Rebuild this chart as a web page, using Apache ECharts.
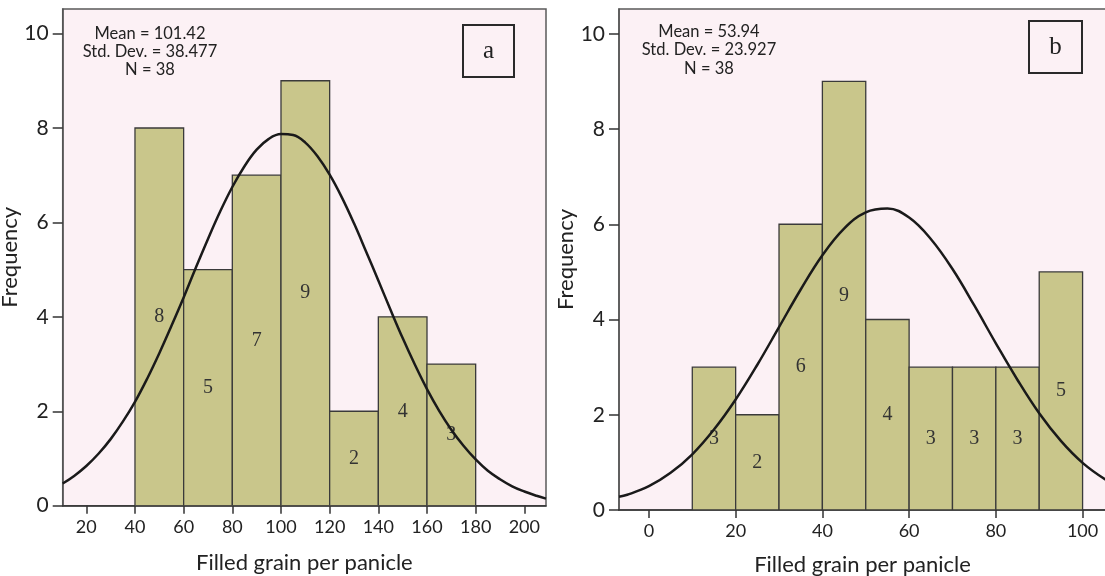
<!DOCTYPE html>
<html>
<head>
<meta charset="utf-8">
<script src="https://cdn.jsdelivr.net/npm/echarts@6/dist/echarts.min.js"></script>
<style>
  html, body { margin: 0; padding: 0; background: #fff; }
  #chart { width: 1105px; height: 576px; }
</style>
</head>
<body>
<div id="chart"></div>
<script>
// panel a: filled grain histogram (bin edges + counts)
const binEdgesA = [40, 60, 80, 100, 120, 140, 160, 180];
const countsA = [8, 5, 7, 9, 2, 4, 3];
// normal curve a
const curveXA = [10.3, 15, 20, 25, 30, 35, 40, 45, 50, 55, 60, 65, 70, 75, 80, 85, 90, 95, 100, 105, 110,
  115, 120, 125, 130, 135, 140, 145, 150, 155, 160, 165, 170, 175, 180, 185, 190, 195, 200, 205, 208.9];
const curveYA = [0.47, 0.63, 0.84, 1.1, 1.41, 1.78, 2.2, 2.69, 3.23, 3.81, 4.41, 5.04, 5.65, 6.23, 6.75, 7.19, 7.54, 7.77, 7.87, 7.85, 7.69,
  7.4, 7.01, 6.53, 5.98, 5.38, 4.77, 4.15, 3.55, 2.99, 2.47, 2.01, 1.61, 1.27, 0.98, 0.74, 0.56, 0.41, 0.3, 0.21, 0.15];
const xTicksA = [20, 40, 60, 80, 100, 120, 140, 160, 180, 200];

// panel b
const binEdgesB = [10, 20, 30, 40, 50, 60, 70, 80, 90, 100];
const countsB = [3, 2, 6, 9, 4, 3, 3, 3, 5];
const curveXB = [-6.9, -5, 0, 5, 10, 15, 20, 25, 30, 35, 40, 45, 50, 55, 60, 65, 70, 75, 80, 85, 90, 95, 100, 105.4];
const curveYB = [0.28, 0.32, 0.5, 0.78, 1.17, 1.69, 2.32, 3.05, 3.84, 4.63, 5.35, 5.91, 6.25, 6.33, 6.14, 5.69, 5.06, 4.3, 3.5, 2.73, 2.03, 1.45, 0.99, 0.63];
const xTicksB = [0, 20, 40, 60, 80, 100];

const yTicks = [0, 2, 4, 6, 8, 10];
const statsA = ['Mean = 101.42', 'Std. Dev. = 38.477', 'N = 38'];
const statsB = ['Mean = 53.94', 'Std. Dev. = 23.927', 'N = 38'];

const sans = 'Lato';
const serif = '"Liberation Serif"';

function toBins(edges, counts) {
  return counts.map((c, i) => [edges[i], edges[i + 1], c]);
}
function toPoints(xs, ys) {
  return xs.map((x, i) => [x, ys[i]]);
}

function renderBar(params, api) {
  const p0 = api.coord([api.value(0), api.value(2)]);
  const p1 = api.coord([api.value(1), 0]);
  return {
    type: 'group',
    children: [
      {
        type: 'rect',
        shape: { x: p0[0], y: p0[1], width: p1[0] - p0[0], height: p1[1] - p0[1] },
        style: { fill: '#c9c68b', stroke: '#3a3a3a', lineWidth: 1.3 }
      },
      {
        type: 'text',
        x: (p0[0] + p1[0]) / 2,
        y: (p0[1] + p1[1]) / 2,
        style: {
          text: String(api.value(2)),
          align: 'center',
          verticalAlign: 'middle',
          font: '20px ' + serif,
          fill: '#333'
        }
      }
    ]
  };
}

function xAxisCfg(idx, min, max, ticks, gap) {
  return {
    type: 'value',
    gridIndex: idx,
    min: min,
    max: max,
    name: 'Filled grain per panicle',
    nameLocation: 'middle',
    nameGap: gap,
    nameTextStyle: { fontFamily: sans, fontSize: 22, color: '#222' },
    splitLine: { show: false },
    axisLine: { onZero: false, lineStyle: { color: '#333', width: 1.5 } },
    axisTick: { length: 8, customValues: ticks, lineStyle: { color: '#333', width: 1.5 } },
    axisLabel: { customValues: ticks, margin: 12, fontFamily: sans, fontSize: 18, color: '#222' }
  };
}

function yAxisCfg(idx, gap) {
  return {
    type: 'value',
    gridIndex: idx,
    min: 0,
    max: 10.52,
    name: 'Frequency',
    nameLocation: 'middle',
    nameRotate: 90,
    nameGap: gap,
    nameTextStyle: { fontFamily: sans, fontSize: 22, color: '#222' },
    splitLine: { show: false },
    axisLine: { show: true, onZero: false, lineStyle: { color: '#555', width: 1.5 } },
    axisTick: { length: 10, customValues: yTicks, lineStyle: { color: '#333', width: 1.5 } },
    axisLabel: { customValues: yTicks, margin: 14, fontFamily: sans, fontSize: 21, color: '#222' }
  };
}

function statsText(lines, cx, ys) {
  return lines.map((t, i) => ({
    type: 'text',
    x: cx,
    y: ys[i],
    style: { text: t, align: 'center', verticalAlign: 'middle', font: '16.5px ' + sans, fill: '#222' }
  }));
}

function panelTag(letter, x, y, w, h) {
  return [
    { type: 'rect', shape: { x: x, y: y, width: w, height: h }, style: { fill: 'none', stroke: '#2a2a2a', lineWidth: 2 } },
    {
      type: 'text',
      x: x + w / 2,
      y: y + h / 2,
      style: { text: letter, align: 'center', verticalAlign: 'middle', font: '25px ' + serif, fill: '#222' }
    }
  ];
}

const chart = echarts.init(document.getElementById('chart'));
chart.setOption({
  animation: false,
  backgroundColor: '#fff',
  grid: [
    { left: 62.7, right: 559, top: 9, bottom: 70.3, outerBoundsMode: 'none', show: true, backgroundColor: '#fcf1f5', borderColor: '#5a5a5a', borderWidth: 1.5 },
    { left: 619, right: -1, top: 9, bottom: 66, outerBoundsMode: 'none', show: true, backgroundColor: '#fcf1f5', borderColor: '#5a5a5a', borderWidth: 1.5 }
  ],
  xAxis: [
    xAxisCfg(0, 10.3, 208.9, xTicksA, 46),
    xAxisCfg(1, -6.9, 105.4, xTicksB, 44)
  ],
  yAxis: [yAxisCfg(0, 34), yAxisCfg(1, 33)],
  series: [
    { type: 'custom', xAxisIndex: 0, yAxisIndex: 0, renderItem: renderBar, data: toBins(binEdgesA, countsA), clip: true },
    { type: 'line', xAxisIndex: 0, yAxisIndex: 0, data: toPoints(curveXA, curveYA), smooth: 0.4, showSymbol: false, lineStyle: { color: '#1a1a1a', width: 2.5 }, z: 5 },
    { type: 'custom', xAxisIndex: 1, yAxisIndex: 1, renderItem: renderBar, data: toBins(binEdgesB, countsB), clip: true },
    { type: 'line', xAxisIndex: 1, yAxisIndex: 1, data: toPoints(curveXB, curveYB), smooth: 0.4, showSymbol: false, lineStyle: { color: '#1a1a1a', width: 2.5 }, z: 5 }
  ],
  graphic: [
    ...statsText(statsA, 150, [34, 52, 70]),
    ...statsText(statsB, 709, [32, 50, 69]),
    ...panelTag('a', 463, 25, 51, 52),
    ...panelTag('b', 1029, 21, 53, 52)
  ]
});
</script>
</body>
</html>
